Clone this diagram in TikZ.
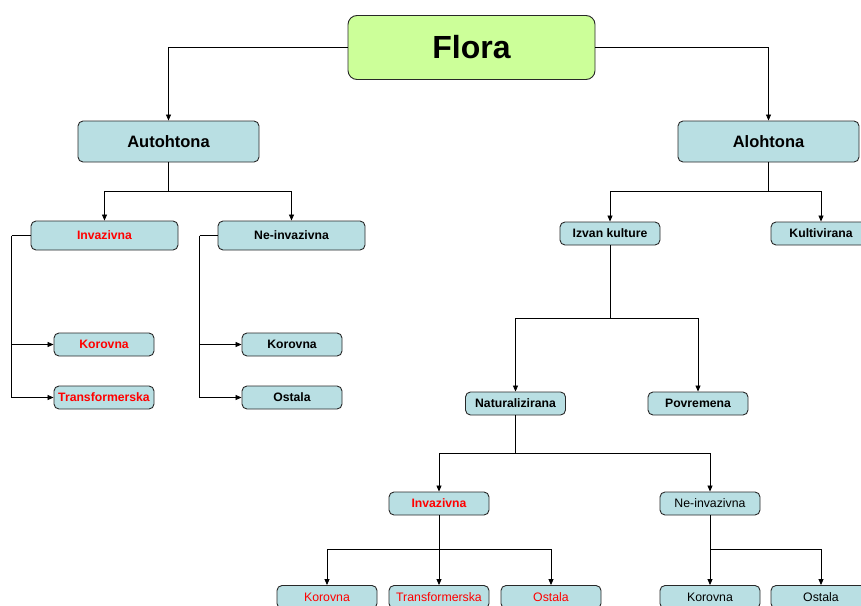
\documentclass[tikz,border=0pt]{standalone}
\usepackage{fontspec}
\setmainfont{Liberation Sans}
\usetikzlibrary{arrows.meta}
\definecolor{boxblue}{RGB}{185,223,227}
\definecolor{boxgreen}{RGB}{204,255,153}
\definecolor{edgegray}{RGB}{40,40,40}
\tikzset{
  base/.style={draw=edgegray, line width=0.9pt, fill=boxblue, rounded corners=5pt, inner sep=0pt, align=center},
  bigbox/.style={base, minimum width=181pt, minimum height=41pt, font=\fontsize{16.5}{18}\selectfont\bfseries},
  midbox/.style={base, minimum width=147pt, minimum height=29pt, font=\fontsize{12.2}{14}\selectfont\bfseries},
  smallbox/.style={base, minimum width=100pt, minimum height=23pt, font=\fontsize{12.2}{14}\selectfont\bfseries},
  plainbox/.style={base, minimum width=100pt, minimum height=23pt, font=\fontsize{12.3}{14}\selectfont},
  redtext/.style={text=red},
  conn/.style={draw=black, line width=0.8pt},
  arr/.style={conn, -{Triangle[length=6pt,width=5pt]}}
}
\begin{document}
\begin{tikzpicture}[x=1pt,y=-1pt]
\useasboundingbox (0,0) rectangle (861,605);
% nodes
\node[base, fill=boxgreen, rounded corners=9pt, minimum width=247pt, minimum height=64pt, font=\fontsize{32}{36}\selectfont\bfseries] (flora) at (471.5,47.5) {Flora};
\node[bigbox] (auto) at (168.5,141.5) {Autohtona};
\node[bigbox] (alo) at (768.5,141.5) {Alohtona};
\node[midbox, redtext] (inv1) at (104.5,235.5) {Invazivna};
\node[midbox] (ne1) at (291.5,235.5) {Ne-invazivna};
\node[smallbox, redtext] (kor1) at (104,344.5) {Korovna};
\node[smallbox, redtext] (tra1) at (104,397.5) {Transformerska};
\node[smallbox] (kor1b) at (292,344.5) {Korovna};
\node[smallbox] (ost1) at (292,397.5) {Ostala};
\node[smallbox] (izv) at (610,233.5) {Izvan kulture};
\node[smallbox] (kult) at (821,233.5) {Kultivirana};
\node[smallbox] (nat) at (515.5,403.5) {Naturalizirana};
\node[smallbox] (pov) at (698,403.5) {Povremena};
\node[smallbox, redtext] (inv2) at (439,503.5) {Invazivna};
\node[plainbox] (ne2) at (710,503.5) {Ne-invazivna};
\node[plainbox, redtext] (kor2) at (327,597) {Korovna};
\node[plainbox, redtext] (tra2) at (439,597) {Transformerska};
\node[plainbox, redtext] (ost2) at (551,597) {Ostala};
\node[plainbox] (kor3) at (710,597) {Korovna};
\node[plainbox] (ost3) at (821,597) {Ostala};
% connectors
\draw[arr] (flora.west) -| (auto.north);
\draw[arr] (flora.east) -| (alo.north);
\draw[conn] (auto.south) -- ++(0,29) coordinate (ja);
\draw[arr] (ja) -| (inv1.north);
\draw[arr] (ja) -| (ne1.north);
\draw[conn] (inv1.west) -- ++(-19,0) coordinate (ji);
\draw[arr] (ji) |- (kor1.west);
\draw[arr] (ji) |- (tra1.west);
\draw[conn] (ne1.west) -- ++(-18,0) coordinate (jn);
\draw[arr] (jn) |- (kor1b.west);
\draw[arr] (jn) |- (ost1.west);
\draw[conn] (alo.south) -- ++(0,29) coordinate (jl);
\draw[arr] (jl) -| (izv.north);
\draw[arr] (jl) -| (kult.north);
\draw[conn] (izv.south) -- ++(0,73) coordinate (jz);
\draw[arr] (jz) -| (nat.north);
\draw[arr] (jz) -| (pov.north);
\draw[conn] (nat.south) -- ++(0,38) coordinate (jt);
\draw[arr] (jt) -| (inv2.north);
\draw[arr] (jt) -| (ne2.north);
\draw[arr] (inv2.south) -- (tra2.north);
\path (inv2.south) ++(0,34) coordinate (jv);
\draw[arr] (jv) -| (kor2.north);
\draw[arr] (jv) -| (ost2.north);
\draw[arr] (ne2.south) -- (kor3.north);
\path (ne2.south) ++(0,34) coordinate (je);
\draw[arr] (je) -| (ost3.north);
\end{tikzpicture}
\end{document}
